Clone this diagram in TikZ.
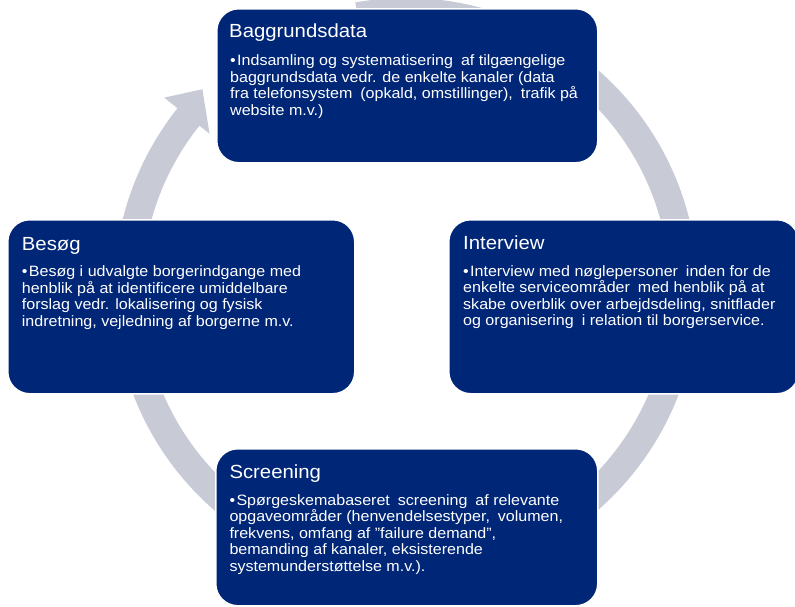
\documentclass[tikz,border=0pt]{standalone}
\usepackage{fontspec}
\setmainfont{Liberation Sans}[FakeStretch=1.07]
\usetikzlibrary{calc}
\definecolor{navy}{RGB}{0,38,119}
\definecolor{ringgray}{RGB}{200,203,214}
\newcommand{\bulpar}[1]{\parbox[t]{360pt}{\raggedright\hangindent=7pt\hangafter=1\makebox[7pt][l]{\textbullet}#1}}
\newcommand{\gap}{\hspace{3.5pt}}
\begin{document}
\begin{tikzpicture}[x=1pt,y=1pt,
  box/.style={draw=white, line width=1.5pt, fill=navy, rounded corners=22pt, anchor=north west, inner sep=0pt},
  ttl/.style={anchor=base west, inner sep=0pt, text=white, font=\fontsize{19}{22}\selectfont},
  body/.style={anchor=base west, inner sep=0pt, text=white, font=\fontsize{15}{16.5}\selectfont},
]
\useasboundingbox (0,0) rectangle (795,-606);
\coordinate (C) at (406,-290);
% circular arrow
\fill[ringgray] ($(C)+(100:292)$) arc[start angle=100, end angle=-218.5, radius=292]
  -- ($(C)+(141.5:309)$) -- ($(C)+(135.4:286)$) -- ($(C)+(141.5:251)$)
  -- ($(C)+(141.5:264)$) arc[start angle=-218.5, end angle=100, radius=264] -- cycle;
% boxes
\node[box, minimum width=381, minimum height=154] (bg) at (216,-8) {};
\node[box, minimum width=347, minimum height=174] (bes) at (7,-219) {};
\node[box, minimum width=350, minimum height=174] (int) at (448,-219) {};
\node[box, minimum width=382, minimum height=157] (scr) at (215,-448) {};
% titles
\node[ttl] (bgT) at (229,-37.7) {Baggrundsdata};
\node[ttl] (besT) at (21.7,-250) {Besøg};
\node[ttl] (intT) at (463,-249.3) {Interview};
\node[ttl] (scrT) at (229.3,-478.3) {Screening};
% bodies
\node[body] (bgB) at (230,-65.7) {\bulpar{Indsamling og systematisering \gap af tilgængelige\\ baggrundsdata vedr. de enkelte kanaler (data\\ fra telefonsystem \gap(opkald, omstillinger), \gap trafik på\\ website m.v.)}};
\node[body] (besB) at (21.7,-276.7) {\bulpar{Besøg i udvalgte borgerindgange med\\ henblik på at identificere umiddelbare\\ forslag vedr. lokalisering og fysisk\\ indretning, vejledning af borgerne m.v.}};
\node[body] (intB) at (463,-276) {\bulpar{Interview med nøglepersoner \gap inden for de\\ enkelte serviceområder \gap med henblik på at\\ skabe overblik over arbejdsdeling, snitflader\\ og organisering \gap i relation til borgerservice.}};
\node[body] (scrB) at (229.3,-505) {\bulpar{Spørgeskemabaseret \gap screening \gap af relevante\\ opgaveområder (henvendelsestyper, \gap volumen,\\ frekvens, omfang af ”failure demand”,\\ bemanding af kanaler, eksisterende\\ systemunderstøttelse m.v.).}};
\end{tikzpicture}
\end{document}
